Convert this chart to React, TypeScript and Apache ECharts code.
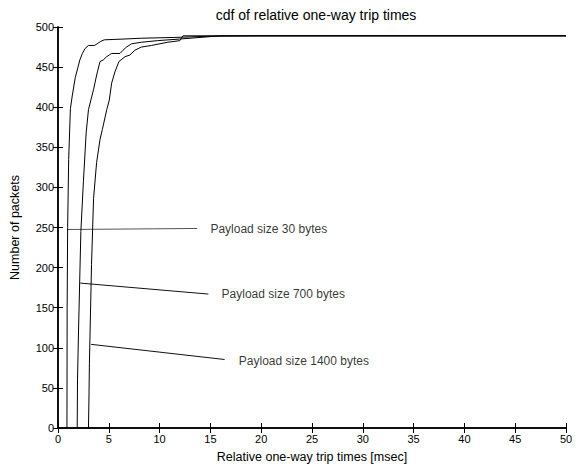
import React, { useEffect, useRef } from "react";
import * as echarts from "echarts";

const xTicks = [0, 50, 5];
const yTicks = [0, 500, 50];

const cdf30X = [0.88, 0.9, 0.95, 1.05, 1.22, 1.4, 1.7, 1.95, 2.15, 2.4, 2.65, 3.0, 3.6, 3.85, 4.2, 4.55, 5.5, 6.5, 8.2, 11.5, 15, 20, 50];
const cdf30Y = [0, 150, 250, 335, 398, 414, 437, 449, 459, 467, 473, 477, 477, 479, 482, 484, 484.5, 485, 486, 487, 488.5, 489, 489];

const cdf700X = [1.89, 1.92, 2.02, 2.25, 2.5, 2.77, 3.0, 3.5, 3.7, 3.88, 4.14, 4.46, 4.79, 5.28, 6.1, 6.4, 6.74, 7.23, 8.2, 9.8, 12, 16, 50];
const cdf700Y = [0, 60, 121, 245, 307, 368, 397, 422, 434, 444, 457, 459, 463, 467, 467, 471, 475, 479, 481, 483, 485, 489, 489];

const cdf1400X = [3.0, 3.05, 3.09, 3.3, 3.5, 3.8, 4.14, 4.36, 4.8, 5.05, 5.28, 5.6, 6.0, 6.6, 7.07, 7.56, 8.2, 9.2, 10.8, 12.0, 12.3, 50];
const cdf1400Y = [0, 40, 80, 204, 286, 331, 360, 372, 397, 409, 430, 444, 457, 463, 465, 471, 475, 477, 481, 483, 489, 489];

const annotationTexts = ["Payload size 30 bytes", "Payload size 700 bytes", "Payload size 1400 bytes"];
const annotationLineStart = [[0.88, 247.5], [2.19, 180.7], [3.26, 104.3]];
const annotationLineEnd = [[13.7, 248.8], [14.8, 167], [16.4, 85.4]];
const annotationTextPos = [[15.0, 248.5], [16.1, 167], [17.8, 83]];

const FONT = "'Liberation Sans', Arial, Helvetica, sans-serif";

export default function App() {
  const ref = useRef<HTMLDivElement>(null);
  useEffect(() => {
    if (!ref.current) return;
    const chart = echarts.init(ref.current, null, { renderer: "svg" });
    const zip = (xs: number[], ys: number[]) => xs.map((x, i) => [x, ys[i]]);
    const curveStyle = { color: "#000", width: 1 };
    const series: any[] = [
      { type: "line", data: zip(cdf30X, cdf30Y), showSymbol: false, lineStyle: curveStyle, z: 3 },
      { type: "line", data: zip(cdf700X, cdf700Y), showSymbol: false, lineStyle: curveStyle, z: 3 },
      { type: "line", data: zip(cdf1400X, cdf1400Y), showSymbol: false, lineStyle: curveStyle, z: 3 },
    ];
    annotationTexts.forEach((t, i) => {
      series.push({
        type: "line",
        data: [annotationLineStart[i], annotationLineEnd[i]],
        showSymbol: false,
        lineStyle: { color: i === 0 ? "#555" : "#111", width: 1 },
        z: 2,
      });
    });
    series.push({
      type: "scatter",
      symbolSize: 0,
      data: annotationTextPos.map((p, i) => ({ value: p, name: annotationTexts[i] })),
      label: {
        show: true,
        position: "right",
        distance: 0,
        formatter: (p: any) => p.name,
        color: "#000",
        fontSize: 12,
        fontFamily: FONT,
      },
      z: 4,
    });
    const axisLine = { show: true, lineStyle: { color: "#000", width: 1.5 } };
    const tickIn = { show: true, inside: true, length: 5, lineStyle: { color: "#000" } };
    const labelStyle = { color: "#000", fontSize: 11, fontFamily: FONT };
    chart.setOption({
      animation: false,
      backgroundColor: "#fff",
      title: {
        text: "cdf of relative one-way trip times",
        left: 311,
        textAlign: "center",
        top: 3,
        textStyle: { color: "#000", fontSize: 14, fontWeight: "normal", fontFamily: FONT },
      },
      grid: { left: 56, right: 14, top: 27, bottom: 37, containLabel: false },
      xAxis: [
        {
          type: "value",
          min: xTicks[0],
          max: xTicks[1],
          interval: xTicks[2],
          position: "bottom",
          name: "Relative one-way trip times [msec]",
          nameLocation: "middle",
          nameGap: 22,
          nameTextStyle: { color: "#000", fontSize: 12.5, fontFamily: FONT },
          axisLine,
          axisTick: tickIn,
          axisLabel: { ...labelStyle, margin: 5 },
          splitLine: { show: false },
        },
        {
          type: "value",
          min: xTicks[0],
          max: xTicks[1],
          interval: xTicks[2],
          position: "top",
          axisLine,
          axisTick: tickIn,
          axisLabel: { show: false },
          splitLine: { show: false },
        },
      ],
      yAxis: [
        {
          type: "value",
          min: yTicks[0],
          max: yTicks[1],
          interval: yTicks[2],
          position: "left",
          name: "Number of packets",
          nameLocation: "middle",
          nameGap: 37,
          nameTextStyle: { color: "#000", fontSize: 12.5, fontFamily: FONT },
          axisLine,
          axisTick: tickIn,
          axisLabel: { ...labelStyle, margin: 4 },
          splitLine: { show: false },
        },
        {
          type: "value",
          min: yTicks[0],
          max: yTicks[1],
          interval: yTicks[2],
          position: "right",
          axisLine,
          axisTick: tickIn,
          axisLabel: { show: false },
          splitLine: { show: false },
        },
      ],
      series,
    });
    return () => chart.dispose();
  }, []);
  return (
    <div
      ref={ref}
      style={{ position: "fixed", left: 0, top: 0, width: 580, height: 468, background: "#fff" }}
    />
  );
}
